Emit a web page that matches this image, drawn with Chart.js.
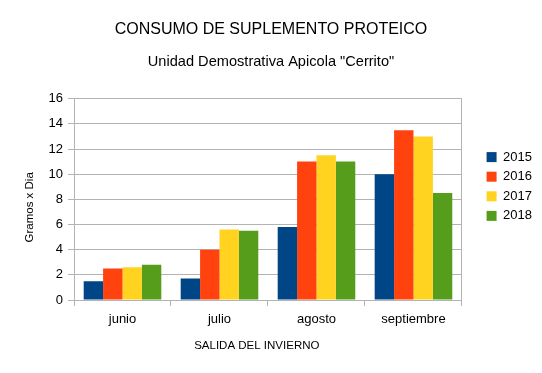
<!DOCTYPE html>
<html lang="es">
<head>
    <meta charset="UTF-8">
    <title>Consumo de suplemento proteico</title>
    <script src="https://cdn.jsdelivr.net/npm/chart.js"></script>
    <style>
        html, body { margin: 0; padding: 0; background: #fff; }
        #chart { display: block; }
    </style>
</head>
<body>
    <canvas id="chart" width="542" height="373"></canvas>
<script>
// datos
const meses = ['junio', 'julio', 'agosto', 'septiembre'];
const anios = ['2015', '2016', '2017', '2018'];
const datos2015 = [1.5, 1.7, 5.8, 10.0];
const datos2016 = [2.5, 4.0, 11.0, 13.5];
const datos2017 = [2.6, 5.6, 11.5, 13.0];
const datos2018 = [2.8, 5.5, 11.0, 8.5];
const colores = ['#004586', '#ff420e', '#ffd320', '#579d1c'];

const series = [datos2015, datos2016, datos2017, datos2018];
const gris = '#b3b3b3';
const fuente = 'Liberation Sans, Arial, sans-serif';
// los titulos de eje no estan centrados en el original, se corren con espacios
const nbsp = '\u00a0';

const ctx = document.getElementById('chart').getContext('2d');

new Chart(ctx, {
    type: 'bar',
    data: {
        labels: meses,
        datasets: series.map((d, i) => ({
            label: anios[i],
            data: d,
            backgroundColor: colores[i],
            borderWidth: 0,
            categoryPercentage: 0.8,
            barPercentage: 1.0
        }))
    },
    options: {
        responsive: false,
        animation: false,
        layout: { padding: { left: 0, right: 0, top: 0, bottom: 0 } },
        plugins: {
            title: {
                display: true,
                text: 'CONSUMO DE SUPLEMENTO PROTEICO',
                color: '#000',
                font: { family: fuente, size: 16, weight: 'normal' },
                padding: { top: 19.5, bottom: 14.5 }
            },
            subtitle: {
                display: true,
                text: 'Unidad Demostrativa Apicola "Cerrito"',
                color: '#000',
                font: { family: fuente, size: 14.6, weight: 'normal' },
                padding: { top: 0, bottom: 28 }
            },
            legend: {
                position: 'right',
                align: 'center',
                labels: {
                    color: '#000',
                    font: { family: fuente, size: 13 },
                    boxWidth: 10,
                    boxHeight: 10,
                    padding: 6.6
                }
            },
            tooltip: { enabled: false }
        },
        scales: {
            x: {
                grid: {
                    offset: true,
                    color: 'transparent',
                    tickColor: gris,
                    tickLength: 6
                },
                border: { color: gris },
                ticks: {
                    color: '#000',
                    font: { family: fuente, size: 13 },
                    padding: 6
                },
                title: {
                    display: true,
                    text: 'SALIDA DEL INVIERNO' + nbsp.repeat(7),
                    color: '#000',
                    font: { family: fuente, size: 11.5 },
                    padding: 20
                },
                afterFit: s => { s.height = 73; }
            },
            y: {
                min: 0,
                max: 16,
                ticks: {
                    stepSize: 2,
                    color: '#000',
                    font: { family: fuente, size: 13 },
                    padding: 5
                },
                grid: { color: gris, tickColor: gris, tickLength: 6 },
                border: { color: gris },
                title: {
                    display: true,
                    text: 'Gramos x Dia' + nbsp.repeat(5),
                    color: '#000',
                    font: { family: fuente, size: 11.5 },
                    padding: 23
                },
                afterFit: s => { s.width = 74; }
            },
            // borde derecho del area del grafico
            y2: {
                display: true,
                position: 'right',
                ticks: { display: false },
                grid: { drawOnChartArea: false, drawTicks: false },
                border: { color: gris },
                afterFit: s => { s.width = 18; }
            }
        }
    }
});
</script>
</body>
</html>
